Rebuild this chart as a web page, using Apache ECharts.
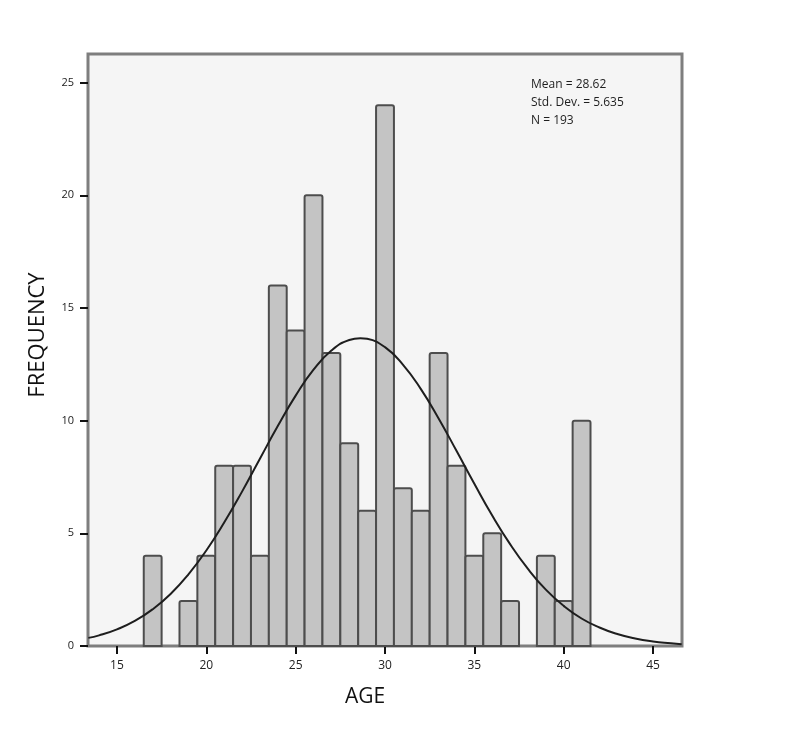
<!DOCTYPE html>
<html>
<head>
<meta charset="utf-8">
<script src="https://cdn.jsdelivr.net/npm/echarts@6/dist/echarts.min.js"></script>
<style>html,body{margin:0;padding:0;background:#fff;}#c{width:800px;height:736px;}</style>
</head>
<body>
<div id="c"></div>
<script>
// Histogram bins (age) and frequencies
const ages = [17, 18, 19, 20, 21, 22, 23, 24, 25, 26, 27, 28, 29, 30, 31, 32, 33, 34, 35, 36, 37, 38, 39, 40, 41];
const freqs = [4, 0, 2, 4, 8, 8, 4, 16, 14, 20, 13, 9, 6, 24, 7, 6, 13, 8, 4, 5, 2, 0, 4, 2, 10];
// Fitted normal curve
const curveX = [13.4, 14, 15, 16, 17, 18, 19, 20, 21, 22, 23, 24, 25, 26, 27, 28, 28.62, 29, 30, 31, 32, 33, 34, 35, 36, 37, 38, 39, 40, 41, 42, 43, 44, 45, 46, 46.6];
const curveY = [0.36, 0.47, 0.74, 1.11, 1.63, 2.31, 3.18, 4.24, 5.48, 6.85, 8.31, 9.76, 11.11, 12.26, 13.11, 13.58, 13.66, 13.63, 13.26, 12.49, 11.41, 10.10, 8.66, 7.20, 5.79, 4.52, 3.42, 2.50, 1.78, 1.22, 0.82, 0.53, 0.33, 0.20, 0.12, 0.08];
const xTicks = [15, 20, 25, 30, 35, 40, 45];
const yTicks = [0, 5, 10, 15, 20, 25];
const statLines = ['Mean = 28.62', 'Std. Dev. = 5.635', 'N = 193'];

const chart = echarts.init(document.getElementById('c'), null, {renderer: 'canvas'});
const barData = ages.map((a, i) => [a, freqs[i]]).filter(d => d[1] > 0);
const lineData = curveX.map((x, i) => [x, curveY[i]]);
const FONT = '"Open Sans", sans-serif';

chart.setOption({
  backgroundColor: '#ffffff',
  animation: false,
  grid: {
    left: 88, right: 118, top: 54, bottom: 90,
    show: true, backgroundColor: '#f5f5f5', borderColor: '#7e7e7e', borderWidth: 3
  },
  xAxis: {
    type: 'value', min: 13.38, max: 46.62,
    splitLine: {show: false},
    axisLine: {show: false},
    axisTick: {show: true, length: 8, inside: false, customValues: xTicks, lineStyle: {color: '#111', width: 2}},
    axisLabel: {customValues: xTicks, margin: 14, fontSize: 12, color: '#222', fontFamily: FONT}
  },
  yAxis: {
    type: 'value', min: 0, max: 26.27,
    splitLine: {show: false},
    axisLine: {show: false},
    axisTick: {show: true, length: 8, inside: false, customValues: yTicks, lineStyle: {color: '#111', width: 2}},
    axisLabel: {customValues: yTicks, margin: 14, fontSize: 11, color: '#222', fontFamily: FONT}
  },
  series: [
    {
      type: 'custom',
      data: barData,
      z: 2,
      renderItem: function (params, api) {
        const x = api.value(0), y = api.value(1);
        const p1 = api.coord([x - 0.5, y]);
        const p2 = api.coord([x + 0.5, 0]);
        return {
          type: 'rect',
          shape: {x: p1[0], y: p1[1], width: p2[0] - p1[0], height: p2[1] - p1[1], r: [2, 2, 0, 0]},
          style: {fill: '#c4c4c4', stroke: '#4d4d4d', lineWidth: 2}
        };
      }
    },
    {
      type: 'line',
      data: lineData,
      smooth: true,
      showSymbol: false,
      z: 3,
      lineStyle: {color: '#1e1e1e', width: 2}
    }
  ],
  graphic: [
    {
      type: 'text', left: 531, top: 76,
      style: {text: statLines.join('\n'), fontSize: 12, lineHeight: 18, fill: '#1e1e1e', fontFamily: FONT}
    },
    {
      type: 'text', x: 38, y: 335, rotation: Math.PI / 2,
      style: {text: 'FREQUENCY', fontSize: 22, fill: '#111', fontFamily: FONT, align: 'center', verticalAlign: 'middle'}
    },
    {
      type: 'text', x: 365, y: 697,
      style: {text: 'AGE', fontSize: 21, fill: '#111', fontFamily: FONT, align: 'center', verticalAlign: 'middle'}
    }
  ]
});
</script>
</body>
</html>
